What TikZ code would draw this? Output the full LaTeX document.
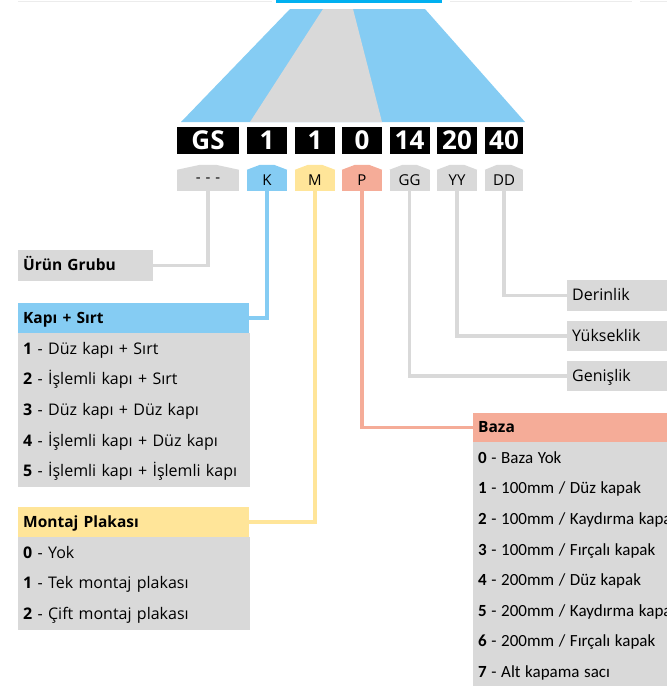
\documentclass[tikz,border=0pt]{standalone}
\usepackage{fontspec}
\setmainfont{Open Sans}
\newfontfamily\bazafont{Carlito}
\usetikzlibrary{calc, positioning}
\definecolor{codeblue}{RGB}{133,204,243}
\definecolor{codegrey}{RGB}{217,217,217}
\definecolor{codeyellow}{RGB}{255,229,153}
\definecolor{codesalmon}{RGB}{245,172,152}
\definecolor{barblue}{RGB}{0,176,240}
\definecolor{faintgrey}{RGB}{236,236,236}

\begin{document}
\begin{tikzpicture}[x=1pt, y=-1pt]

% TikZ styles
\tikzset{
  digit/.style={rectangle, fill=black, text=white, minimum width=40pt, minimum height=27pt, inner sep=0pt, font=\fontsize{26}{26}\selectfont\bfseries},
  tagbox/.style={rectangle, minimum width=40pt, minimum height=21pt, inner sep=0pt, font=\fontsize{15}{15}\selectfont},
  header/.style={rectangle, anchor=north west, minimum height=30pt, inner xsep=5pt, inner ysep=0pt, align=left, text height=11pt, text depth=0.5pt, font=\fontsize{15.5}{16}\selectfont\bfseries},
  entry/.style={rectangle, fill=codegrey, draw=codegrey, line width=0.6pt, minimum height=30pt, inner xsep=5pt, inner ysep=0pt, align=left, text height=11pt, text depth=0pt, font=\fontsize{16}{16}\selectfont},
  bazaentry/.style={entry, font=\fontsize{17}{17}\selectfont\bazafont, execute at begin node={\spaceskip=0.27em plus 0.02em\relax}},
  link/.style={line width=3.5pt}
}

\useasboundingbox (0,0) rectangle (667,686);
\clip (0,0) rectangle (667,686);

%==========================
% Kopf: Balken und Trapez
%==========================
\fill[barblue] (276,0) rectangle (442,2.5);
\draw[faintgrey, line width=1pt] (18,1) -- (272,1);
\draw[faintgrey, line width=1pt] (450,1) -- (632,1);
\draw[faintgrey, line width=1pt] (640,1) -- (667,1);

\fill[codeblue] (290,9) -- (425,9) -- (525,122) -- (181,122) -- cycle;
\fill[codegrey] (323,9) -- (353,9) -- (382,122) -- (250,122) -- cycle;

%==========================
% Code-Felder
%==========================
\node[digit, minimum width=62pt] (dgs) at (208,140.5) {GS};
\node[digit] (dk)  at (267,140.5) {1};
\node[digit] (dm)  at (315,140.5) {1};
\node[digit] (dp)  at (362,140.5) {0};
\node[digit] (dgg) at (409.5,140.5) {14};
\node[digit] (dyy) at (457,140.5) {20};
\node[digit, minimum width=38pt] (ddd) at (504,140.5) {40};

\node[tagbox, fill=codegrey, minimum width=62pt] (tgs) at (208,180.5) {-\,\,-\,\,-};
\node[tagbox, fill=codeblue]   (tk)  at (267,180.5) {K};
\node[tagbox, fill=codeyellow] (tm)  at (315,180.5) {M};
\node[tagbox, fill=codesalmon] (tp)  at (362,180.5) {P};
\node[tagbox, fill=codegrey]   (tgg) at (409.5,180.5) {GG};
\node[tagbox, fill=codegrey]   (tyy) at (457,180.5) {YY};
\node[tagbox, fill=codegrey, minimum width=38pt] (tdd) at (504,180.5) {DD};

% Spitzen der Felder
\fill[codegrey]   (tgs.north west) -- ($(tgs.north)+(-8,-5)$) -- ($(tgs.north)+(8,-5)$) -- (tgs.north east) -- cycle;
\fill[codeblue]   (tk.north west) -- ($(tk.north)+(-7,-5)$) -- ($(tk.north)+(7,-5)$) -- (tk.north east) -- cycle;
\fill[codeyellow] (tm.north west) -- ($(tm.north)+(-7,-5)$) -- ($(tm.north)+(7,-5)$) -- (tm.north east) -- cycle;
\fill[codesalmon] (tp.north west) -- ($(tp.north)+(-7,-5)$) -- ($(tp.north)+(7,-5)$) -- (tp.north east) -- cycle;
\fill[codegrey]   (tgg.north west) -- ($(tgg.north)+(-7,-5)$) -- ($(tgg.north)+(7,-5)$) -- (tgg.north east) -- cycle;
\fill[codegrey]   (tyy.north west) -- ($(tyy.north)+(-7,-5)$) -- ($(tyy.north)+(7,-5)$) -- (tyy.north east) -- cycle;
\fill[codegrey]   (tdd.north west) -- ($(tdd.north)+(-7,-5)$) -- ($(tdd.north)+(7,-5)$) -- (tdd.north east) -- cycle;

%==========================
% Legenden links
%==========================
\node[header, fill=codegrey, text width=125pt, minimum height=31pt] (urun) at (18,250) {Ürün Grubu};

\node[header, fill=codeblue, text width=221pt] (kapi) at (18,303) {Kapı + Sırt};
\node[entry, text width=221pt, below=0pt of kapi] (kapi1) {\textbf{1} - Düz kapı + Sırt};
\node[entry, text width=221pt, below=0pt of kapi1] (kapi2) {\textbf{2} - İşlemli kapı + Sırt};
\node[entry, text width=221pt, below=0pt of kapi2] (kapi3) {\textbf{3} - Düz kapı + Düz kapı};
\node[entry, text width=221pt, below=0pt of kapi3] (kapi4) {\textbf{4} - İşlemli kapı + Düz kapı};
\node[entry, text width=221pt, below=0pt of kapi4] (kapi5) {\textbf{5} - İşlemli kapı + İşlemli kapı};

\node[header, fill=codeyellow, text width=221pt] (montaj) at (18,507) {Montaj Plakası};
\node[entry, text width=221pt, below=0pt of montaj] (montaj0) {\textbf{0} - Yok};
\node[entry, text width=221pt, below=0pt of montaj0] (montaj1) {\textbf{1} - Tek montaj plakası};
\node[entry, text width=221pt, below=0pt of montaj1] (montaj2) {\textbf{2} - Çift montaj plakası};

%==========================
% Legenden rechts
%==========================
\node[header, fill=codegrey, text width=110pt, minimum height=31pt, font=\fontsize{16}{16}\selectfont] (derinlik)  at (567,280) {Derinlik};
\node[header, fill=codegrey, text width=110pt, font=\fontsize{16}{16}\selectfont] (yukseklik) at (567,321) {Yükseklik};
\node[header, fill=codegrey, text width=110pt, font=\fontsize{16}{16}\selectfont] (genislik)  at (567,361) {Genişlik};

\node[header, fill=codesalmon, text width=220pt, minimum height=29pt] (baza) at (473,413) {Baza};
\node[bazaentry, text width=220pt, below=0pt of baza]  (baza0) {\textbf{0} - Baza Yok};
\node[bazaentry, text width=220pt, below=0pt of baza0] (baza1) {\textbf{1} - 100mm / Düz kapak};
\node[bazaentry, text width=220pt, below=0pt of baza1] (baza2) {\textbf{2} - 100mm / Kaydırma kapak};
\node[bazaentry, text width=220pt, below=0pt of baza2] (baza3) {\textbf{3} - 100mm / Fırçalı kapak};
\node[bazaentry, text width=220pt, below=0pt of baza3] (baza4) {\textbf{4} - 200mm / Düz kapak};
\node[bazaentry, text width=220pt, below=0pt of baza4] (baza5) {\textbf{5} - 200mm / Kaydırma kapak};
\node[bazaentry, text width=220pt, below=0pt of baza5] (baza6) {\textbf{6} - 200mm / Fırçalı kapak};
\node[bazaentry, text width=220pt, below=0pt of baza6] (baza7) {\textbf{7} - Alt kapama sacı};

%Verbindungen
\draw[link, codegrey]   (tgs.south) |- (urun.east);
\draw[link, codeblue]   (tk.south)  |- (kapi.east);
\draw[link, codeyellow] (tm.south)  |- (montaj.east);
\draw[link, codesalmon] (tp.south)  |- (baza.west);
\draw[link, codegrey]   (tgg.south) |- (genislik.west);
\draw[link, codegrey]   (tyy.south) |- (yukseklik.west);
\draw[link, codegrey]   (tdd.south) |- (derinlik.west);
\end{tikzpicture}
\end{document}
